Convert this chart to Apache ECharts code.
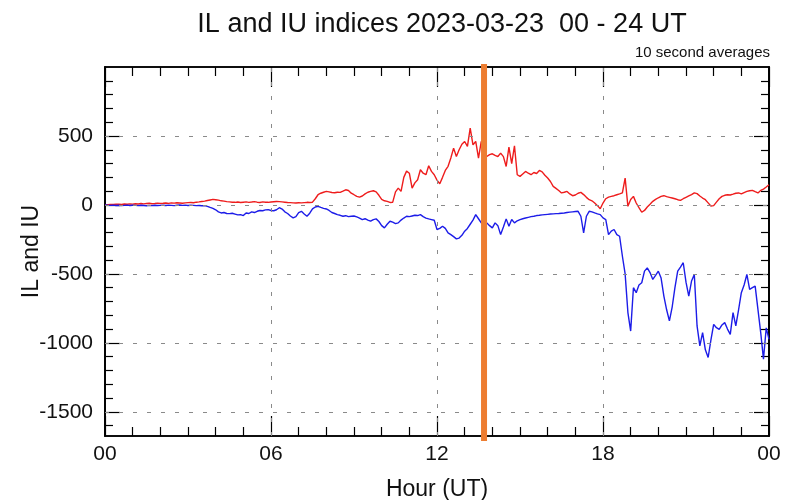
<!DOCTYPE html>
<html>
<head>
<meta charset="utf-8">
<title>IL and IU indices 2023-03-23</title>
<script src="https://cdn.jsdelivr.net/npm/echarts@6/dist/echarts.min.js"></script>
<style>
  html, body { margin: 0; padding: 0; background: #ffffff; }
  #chart { width: 787px; height: 500px; }
</style>
</head>
<body>
<div id="chart"></div>
<script>
// Sampling step of the index series, in hours (0.0 ... 24.0)
const STEP_H = 0.1;

// IU index (upper envelope), nT
const IU = [
  0, 2, 4, 3, 5, 6, 4, 7, 5, 8, 6,
  9, 7, 10, 8, 11, 12, 9, 10, 13, 11,
  12, 14, 11, 15, 13, 16, 14, 12, 15, 17,
  18, 16, 20, 22, 25, 28, 32, 36, 40, 38,
  35, 30, 28, 24, 22, 20, 19, 21, 18, 20,
  22, 19, 21, 24, 20, 18, 22, 20, 19, 21,
  23, 25, 24, 22, 20, 18, 17, 15, 14, 16,
  15, 17, 19, 18, 20, 45, 74, 85, 92, 98,
  95, 90, 88, 92, 91, 100, 110, 105, 85, 74,
  62, 57, 65, 80, 92, 98, 103, 95, 70, 40,
  30, 26, 18, 20, 95, 122, 98, 200, 245, 230,
  122, 160, 183, 255, 230, 219, 284, 243, 219, 180,
  154, 200, 250, 280, 340, 412, 351, 400, 440, 460,
  424, 557, 436, 460, 340, 460, 400, 351, 365, 371,
  360, 351, 376, 350, 279, 419, 300, 429, 219, 207,
  225, 243, 230, 219, 235, 228, 250, 240, 215, 195,
  170, 135, 120, 105, 87, 92, 98, 80, 67, 72,
  85, 91, 75, 55, 38, 30, 14, -5, -28, 14,
  45, 57, 62, 67, 74, 80, 87, 195, -10, 40,
  62, 14, -20, -53, -40, -15, 5, 26, 40, 52,
  62, 67, 60, 55, 50, 45, 38, 33, 45, 55,
  65, 75, 87, 82, 65, 50, 38, 15, -8, -5,
  20, 45, 62, 70, 74, 72, 78, 85, 87, 80,
  90, 98, 103, 106, 96, 87, 105, 115, 130, 147
];

// IL index (lower envelope), nT
const IL = [
  0, -2, -3, -1, -4, -2, -5, -3, -1, -4, -2,
  -3, -5, -2, -4, -6, -3, -5, -2, -4, -3,
  -2, -4, -1, -3, -5, -2, 0, -3, -1, -4,
  -2, -3, -5, -4, -6, -5, -10, -18, -25, -35,
  -50, -58, -55, -62, -63, -60, -66, -72, -70, -77,
  -58, -62, -50, -55, -46, -40, -42, -36, -34, -40,
  -42, -35, -20, -30, -50, -62, -80, -94, -85, -55,
  -46, -65, -82, -60, -29, -15, -10, -18, -25, -29,
  -40, -55, -62, -70, -75, -82, -78, -85, -82, -80,
  -87, -95, -106, -100, -110, -118, -106, -101, -120, -150,
  -166, -140, -118, -125, -135, -130, -110, -95, -82, -85,
  -80, -75, -77, -70, -85, -95, -101, -106, -111, -178,
  -170, -154, -170, -202, -215, -230, -246, -240, -220, -190,
  -170, -140, -110, -70, -100, -130, -140, -130, -150, -166,
  -130, -150, -215, -160, -101, -154, -106, -130, -115, -106,
  -100, -95, -90, -85, -82, -77, -75, -72, -70, -68,
  -66, -65, -63, -62, -60, -58, -55, -52, -50, -48,
  -46, -82, -202, -82, -46, -50, -58, -65, -70, -94,
  -106, -215, -190, -178, -215, -227, -370, -500, -780, -914,
  -600, -636, -580, -564, -480, -456, -490, -540, -510, -480,
  -530, -661, -760, -840, -740, -600, -480, -450, -419, -560,
  -661, -552, -504, -877, -1022, -925, -1050, -1106, -980, -866,
  -890, -902, -870, -853, -900, -938, -781, -877, -760, -636,
  -580, -504, -612, -600, -588, -757, -925, -1118, -891, -974
];

// Axis ticks and labels
const X_TICK_VALUES = [0, 6, 12, 18, 24];
const X_TICK_LABELS = ['00', '06', '12', '18', '00'];
const X_GRID_VALUES = [6, 12, 18];
const Y_MAJOR = [-1500, -1000, -500, 0, 500];
const Y_MINOR = [-1600, -1400, -1300, -1200, -1100, -900, -800, -700, -600,
                 -400, -300, -200, -100, 100, 200, 300, 400, 600, 700, 800, 900];
const Y_MIN = -1675;
const Y_MAX = 1000;

// Event marker (hour) and its vertical extent in nT
const MARKER_HOUR = 13.7;
const MARKER_SPAN = [-1711, 1022];

const FONT = '"Liberation Sans", Arial, Helvetica, sans-serif';
const INK = '#111111';

function hourSeries(values) {
  return values.map((v, i) => [+(i * STEP_H).toFixed(1), v]);
}

function xAxisDef(position, showLabel) {
  return {
    type: 'value',
    position: position,
    min: 0,
    max: 24,
    interval: 6,
    axisLine: { show: true, onZero: false, lineStyle: { color: '#000', width: 1.5 } },
    axisTick: { show: true, inside: true, length: 20, lineStyle: { color: '#000', width: 1.2 } },
    minorTick: { show: true, splitNumber: 6, length: 9, lineStyle: { color: '#000', width: 1.2 } },
    splitLine: { show: false },
    axisLabel: {
      show: showLabel,
      showMinLabel: true,
      showMaxLabel: true,
      fontSize: 21,
      color: INK,
      fontFamily: FONT,
      margin: 8,
      formatter: v => X_TICK_LABELS[X_TICK_VALUES.indexOf(v)]
    },
    name: showLabel ? 'Hour (UT)' : '',
    nameLocation: 'middle',
    nameGap: 42,
    nameTextStyle: { fontSize: 23, color: INK, fontFamily: FONT }
  };
}

function yAxisDef(position, ticks, tickLen, showLabel, name) {
  return {
    type: 'value',
    position: position,
    min: Y_MIN,
    max: Y_MAX,
    axisLine: { show: true, onZero: false, lineStyle: { color: '#000', width: 1.5 } },
    axisTick: { show: true, inside: true, length: tickLen, customValues: ticks,
                lineStyle: { color: '#000', width: 1.2 } },
    splitLine: { show: false },
    axisLabel: {
      show: showLabel,
      customValues: ticks,
      fontSize: 21,
      color: INK,
      fontFamily: FONT,
      margin: 12,
      formatter: v => String(v)
    },
    name: name || '',
    nameLocation: 'middle',
    nameGap: 62,
    nameMoveOverlap: false,
    nameTextStyle: { fontSize: 23, color: INK, fontFamily: FONT }
  };
}

const chart = echarts.init(document.getElementById('chart'), null, { renderer: 'canvas' });

chart.setOption({
  animation: false,
  backgroundColor: '#ffffff',
  textStyle: { fontFamily: FONT },
  title: [
    {
      text: 'IL and IU indices 2023-03-23  00 - 24 UT',
      left: 437,
      textAlign: 'center',
      top: 6,
      textStyle: { fontSize: 27, fontWeight: 'normal', color: INK, fontFamily: FONT }
    },
    {
      text: '10 second averages',
      right: 12,
      top: 40,
      textStyle: { fontSize: 15, fontWeight: 'normal', color: INK, fontFamily: FONT }
    }
  ],
  grid: {
    left: 105, right: 18, top: 67, bottom: 64,
    containLabel: false,
    outerBoundsMode: 'none',
    show: true, borderColor: '#000', borderWidth: 1.5, backgroundColor: 'transparent'
  },
  xAxis: [
    xAxisDef('bottom', true),
    xAxisDef('top', false)
  ],
  yAxis: [
    yAxisDef('left', Y_MAJOR, 15, true, 'IL and IU'),
    yAxisDef('left', Y_MINOR, 8, false),
    yAxisDef('right', Y_MAJOR, 15, false),
    yAxisDef('right', Y_MINOR, 8, false)
  ],
  series: [
    {
      // dashed reference grid
      type: 'line',
      data: [],
      z: 1,
      markLine: {
        silent: true,
        symbol: ['none', 'none'],
        label: { show: false },
        lineStyle: { color: '#8a8a8a', type: [4, 10], width: 1 },
        data: Y_MAJOR.map(v => ({ yAxis: v })).concat(X_GRID_VALUES.map(v => ({ xAxis: v })))
      }
    },
    {
      name: 'IU',
      type: 'line',
      data: hourSeries(IU),
      showSymbol: false,
      symbol: 'none',
      z: 3,
      lineStyle: { color: '#ee1c1c', width: 1.4 }
    },
    {
      name: 'IL',
      type: 'line',
      data: hourSeries(IL),
      showSymbol: false,
      symbol: 'none',
      z: 3,
      lineStyle: { color: '#1c1ce8', width: 1.4 }
    },
    {
      name: 'marker',
      type: 'line',
      data: MARKER_SPAN.map(v => [MARKER_HOUR, v]),
      showSymbol: false,
      symbol: 'none',
      clip: false,
      z: 5,
      lineStyle: { color: '#ED7D31', width: 6 }
    }
  ]
});
</script>
</body>
</html>
